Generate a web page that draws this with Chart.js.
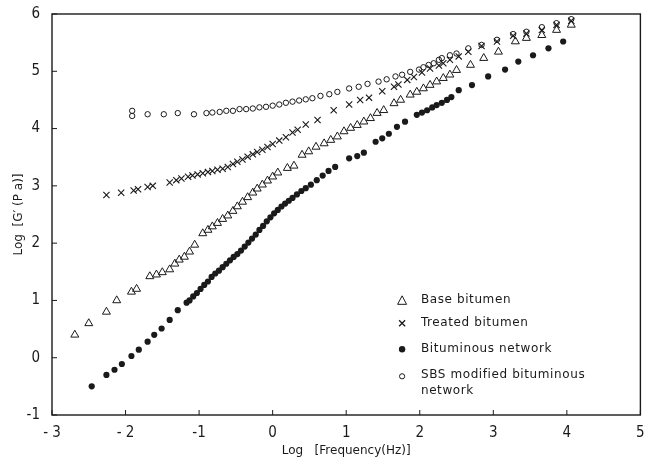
<!DOCTYPE html>
<html>
<head>
<meta charset="utf-8">
<script src="https://cdn.jsdelivr.net/npm/chart.js@4.4.1/dist/chart.umd.min.js"></script>
<style>
  html,body{margin:0;padding:0;background:#fff}
  #wrap{width:646px;height:461px;position:relative}
</style>
</head>
<body>
<div id="wrap"><canvas id="chart"></canvas></div>
<script>
// ---- data ----
const seriesNames = ["Base bitumen", "Treated bitumen", "Bituminous network", "SBS modified bituminous network"];

const baseX = [-2.69,-2.50,-2.26,-2.12,-1.92,-1.85,-1.67,-1.58,-1.50,-1.40,-1.33,-1.27,-1.20,-1.13,-1.06,-0.95,-0.88,-0.82,-0.75,-0.68,-0.61,-0.54,-0.48,-0.41,-0.34,-0.27,-0.21,-0.14,-0.07,0.00,0.07,0.20,0.29,0.40,0.49,0.59,0.70,0.79,0.88,0.97,1.06,1.15,1.24,1.33,1.42,1.51,1.65,1.74,1.87,1.96,2.05,2.14,2.23,2.32,2.41,2.50,2.69,2.87,3.07,3.30,3.45,3.66,3.86,4.06];
const baseY = [0.40,0.60,0.80,1.00,1.15,1.20,1.42,1.45,1.49,1.54,1.64,1.71,1.76,1.85,1.97,2.17,2.23,2.29,2.35,2.42,2.48,2.56,2.64,2.72,2.80,2.88,2.95,3.02,3.09,3.16,3.23,3.31,3.35,3.54,3.60,3.68,3.74,3.80,3.86,3.95,4.01,4.06,4.12,4.18,4.27,4.32,4.44,4.50,4.59,4.64,4.70,4.76,4.82,4.88,4.94,5.02,5.11,5.23,5.34,5.52,5.58,5.63,5.72,5.81];

const treatedX = [-2.26,-2.06,-1.89,-1.83,-1.70,-1.63,-1.40,-1.31,-1.24,-1.15,-1.09,-1.02,-0.95,-0.88,-0.82,-0.75,-0.68,-0.61,-0.54,-0.48,-0.41,-0.34,-0.27,-0.21,-0.14,-0.07,0.00,0.09,0.18,0.27,0.34,0.45,0.61,0.83,1.04,1.19,1.31,1.49,1.65,1.71,1.83,1.92,2.03,2.14,2.26,2.32,2.41,2.53,2.66,2.84,3.05,3.27,3.45,3.66,3.86,4.06];
const treatedY = [2.84,2.88,2.92,2.94,2.98,3.00,3.06,3.10,3.13,3.16,3.18,3.20,3.22,3.24,3.26,3.28,3.30,3.33,3.38,3.42,3.46,3.51,3.55,3.59,3.63,3.68,3.73,3.79,3.85,3.93,3.98,4.07,4.15,4.32,4.42,4.50,4.54,4.65,4.73,4.77,4.85,4.90,4.98,5.05,5.10,5.14,5.20,5.26,5.34,5.44,5.52,5.62,5.66,5.72,5.81,5.88];

const networkX = [-2.46,-2.26,-2.15,-2.05,-1.92,-1.82,-1.70,-1.61,-1.51,-1.40,-1.29,-1.17,-1.13,-1.08,-1.03,-0.98,-0.93,-0.88,-0.83,-0.78,-0.73,-0.68,-0.63,-0.58,-0.53,-0.48,-0.43,-0.38,-0.33,-0.28,-0.23,-0.18,-0.13,-0.08,-0.03,0.02,0.07,0.12,0.17,0.22,0.27,0.33,0.39,0.45,0.52,0.60,0.68,0.76,0.85,1.04,1.15,1.24,1.40,1.49,1.58,1.69,1.80,1.96,2.03,2.10,2.17,2.23,2.30,2.37,2.43,2.53,2.71,2.93,3.16,3.34,3.54,3.75,3.95];
const networkY = [-0.50,-0.30,-0.21,-0.11,0.03,0.14,0.28,0.40,0.51,0.66,0.83,0.96,1.00,1.07,1.13,1.20,1.27,1.33,1.41,1.47,1.52,1.58,1.64,1.70,1.76,1.81,1.87,1.94,2.01,2.08,2.15,2.23,2.30,2.38,2.45,2.52,2.58,2.64,2.69,2.74,2.79,2.85,2.91,2.96,3.02,3.10,3.18,3.26,3.33,3.48,3.52,3.58,3.77,3.83,3.91,4.03,4.12,4.24,4.28,4.32,4.37,4.41,4.45,4.50,4.55,4.67,4.76,4.91,5.03,5.17,5.28,5.40,5.52];

const sbsX = [-1.91,-1.91,-1.70,-1.48,-1.29,-1.07,-0.90,-0.82,-0.72,-0.63,-0.54,-0.45,-0.36,-0.27,-0.18,-0.09,0.00,0.09,0.18,0.27,0.36,0.45,0.54,0.65,0.77,0.88,1.04,1.17,1.29,1.44,1.55,1.67,1.76,1.87,1.99,2.05,2.12,2.19,2.26,2.30,2.41,2.50,2.66,2.84,3.05,3.27,3.45,3.66,3.86,4.06];
const sbsY = [4.31,4.22,4.25,4.25,4.27,4.25,4.27,4.28,4.29,4.31,4.31,4.34,4.34,4.35,4.37,4.38,4.40,4.42,4.45,4.47,4.49,4.51,4.53,4.57,4.60,4.64,4.70,4.73,4.78,4.82,4.86,4.91,4.94,4.99,5.03,5.07,5.11,5.14,5.20,5.23,5.28,5.31,5.40,5.46,5.55,5.65,5.69,5.77,5.84,5.91];

const xTickValues = [-3,-2,-1,0,1,2,3,4,5];
const xTickLabels = ["- 3","- 2","-1","0","1","2","3","4","5"];
const yTickValues = [-1,0,1,2,3,4,5,6];
const yTickLabels = ["-1","0","1","2","3","4","5","6"];

const ink = "#1a1a1a";
const numFont = '"DejaVu Sans Condensed", "Liberation Sans Narrow", "DejaVu Sans", sans-serif';
const txtFont = '"DejaVu Sans", sans-serif';

const pts = (xs, ys) => xs.map((x,i)=>({x, y: ys[i]}));

// frame + inward tick marks
const framePlugin = {
  id: "frame",
  afterDraw(chart){
    const {ctx, chartArea:a, scales} = chart;
    ctx.save();
    ctx.strokeStyle = ink;
    ctx.lineWidth = 1.4;
    ctx.strokeRect(a.left, a.top, a.right-a.left, a.bottom-a.top);
    ctx.lineWidth = 1;
    ctx.beginPath();
    xTickValues.forEach(v=>{
      const px = scales.x.getPixelForValue(v);
      ctx.moveTo(px, a.bottom); ctx.lineTo(px, a.bottom-5);
    });
    yTickValues.forEach(v=>{
      const py = scales.y.getPixelForValue(v);
      ctx.moveTo(a.left, py); ctx.lineTo(a.left+5, py);
    });
    ctx.stroke();
    ctx.restore();
  }
};

// legend drawn inside the plot, like the original figure
const legendPlugin = {
  id: "insideLegend",
  afterDraw(chart){
    const {ctx, chartArea:a} = chart;
    const w = a.right-a.left, h = a.bottom-a.top;
    const mx = a.left + w*0.595, tx = a.left + w*0.627;
    const rows = [0.714, 0.771, 0.836, 0.901];
    ctx.save();
    ctx.fillStyle = ink; ctx.strokeStyle = ink;
    ctx.font = "12px " + txtFont;
    ctx.textBaseline = "middle";
    if ("letterSpacing" in ctx) ctx.letterSpacing = "0.6px";
    rows.forEach((r,i)=>{
      const y = a.top + h*r;
      ctx.beginPath();
      ctx.lineWidth = 1;
      if(i===0){ ctx.moveTo(mx, y-4.5); ctx.lineTo(mx+4.5, y+4); ctx.lineTo(mx-4.5, y+4); ctx.closePath(); ctx.stroke(); }
      else if(i===1){ ctx.lineWidth=1.3; ctx.moveTo(mx-3,y-3); ctx.lineTo(mx+3,y+3); ctx.moveTo(mx+3,y-3); ctx.lineTo(mx-3,y+3); ctx.stroke(); }
      else if(i===2){ ctx.arc(mx, y, 3.2, 0, Math.PI*2); ctx.fill(); }
      else { ctx.arc(mx, y+1, 2.6, 0, Math.PI*2); ctx.stroke(); }
      if(i===3){
        ctx.fillText("SBS modified bituminous", tx, y);
        ctx.fillText("network", tx, y + h*0.04);
      } else {
        ctx.fillText(seriesNames[i], tx, y);
      }
    });
    ctx.restore();
  }
};

const common = { showLine:false, borderColor: ink, pointBorderColor: ink, pointHoverRadius: 0 };

new Chart(document.getElementById("chart"), {
  type: "scatter",
  data: {
    datasets: [
      { ...common, label: seriesNames[0], data: pts(baseX, baseY), pointStyle: "triangle", pointRadius: 4.6, pointBorderWidth: 1, pointBackgroundColor: "rgba(0,0,0,0)" },
      { ...common, label: seriesNames[1], data: pts(treatedX, treatedY), pointStyle: "crossRot", pointRadius: 4.4, pointBorderWidth: 1.1, pointBackgroundColor: "rgba(0,0,0,0)" },
      { ...common, label: seriesNames[2], data: pts(networkX, networkY), pointStyle: "circle", pointRadius: 3.1, pointBorderWidth: 0, pointBackgroundColor: ink },
      { ...common, label: seriesNames[3], data: pts(sbsX, sbsY), pointStyle: "circle", pointRadius: 2.7, pointBorderWidth: 1, pointBackgroundColor: "rgba(0,0,0,0)" }
    ]
  },
  options: {
    responsive: true,
    maintainAspectRatio: false,
    animation: false,
    events: [],
    layout: { padding: { top: 14, right: 4, left: 0, bottom: 0 } },
    plugins: { legend: { display:false }, tooltip: { enabled:false } },
    scales: {
      x: {
        type: "linear", min: -3, max: 5,
        grid: { display:false }, border: { display:false },
        afterBuildTicks: s => { s.ticks = xTickValues.map(v=>({value:v})); },
        afterFit: s => { s.height = 46; },
        ticks: { color: ink, padding: 1, maxRotation: 0, font: { family: numFont, size: 15 },
                 callback: v => xTickLabels[xTickValues.indexOf(v)] ?? "" },
        title: { display:true, text: "Log   [Frequency(Hz)]", color: ink, padding: { top: 0, bottom: 3 },
                 font: { family: txtFont, size: 12 } }
      },
      y: {
        type: "linear", min: -1, max: 6,
        grid: { display:false }, border: { display:false },
        afterBuildTicks: s => { s.ticks = yTickValues.map(v=>({value:v})); },
        afterFit: s => { s.width = 52; },
        ticks: { color: ink, padding: 4, font: { family: numFont, size: 15 },
                 callback: v => yTickLabels[yTickValues.indexOf(v)] ?? "" },
        title: { display:true, text: "Log  [G\u2032 (P a)]", color: ink, padding: { top: 12, bottom: 0 },
                 font: { family: txtFont, size: 12 } }
      }
    }
  },
  plugins: [framePlugin, legendPlugin]
});
</script>
</body>
</html>
